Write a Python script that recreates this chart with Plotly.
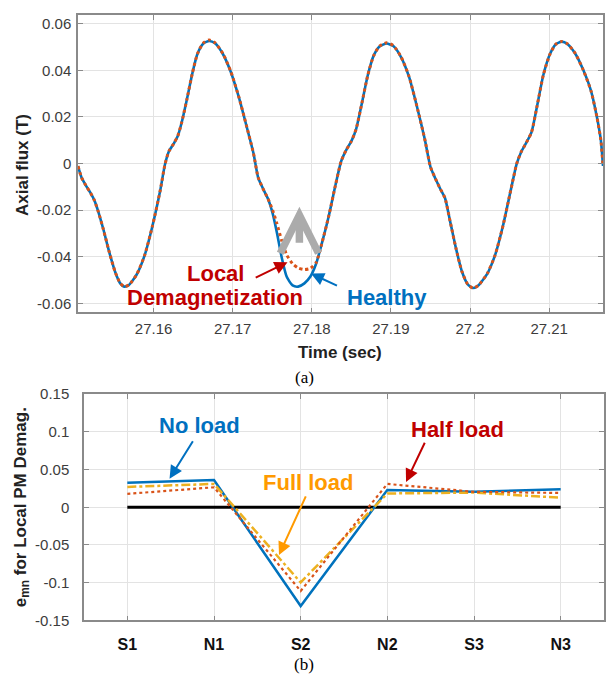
import plotly.graph_objects as go

# ---------------- (a) axial flux ----------------
time_s = [27.15045, 27.1509, 27.15153, 27.15203, 27.15252, 27.15302, 27.15366, 27.15441, 27.15515,
          27.15579, 27.15629, 27.15688, 27.15787, 27.15886, 27.15985, 27.16084, 27.16144, 27.16193,
          27.16257, 27.16307, 27.16356, 27.16421, 27.16490, 27.16554, 27.16629, 27.16703, 27.16777,
          27.16876, 27.16975, 27.17074, 27.17173, 27.17262, 27.17322, 27.17381, 27.17446, 27.17505,
          27.17559, 27.17619, 27.17683, 27.17757, 27.17827, 27.17906, 27.17980, 27.18054, 27.18124,
          27.18213, 27.18302, 27.18371, 27.18436, 27.18500, 27.18559, 27.18634, 27.18708, 27.18782,
          27.18856, 27.18946, 27.19030, 27.19129, 27.19228, 27.19327, 27.19426, 27.19500, 27.19560,
          27.19624, 27.19683, 27.19748, 27.19822, 27.19896, 27.19970, 27.20035, 27.20104, 27.20218,
          27.20317, 27.20416, 27.20515, 27.20589, 27.20649, 27.20713, 27.20777, 27.20847, 27.20926,
          27.21010, 27.21084, 27.21158, 27.21233, 27.21332, 27.21431, 27.21530, 27.21604, 27.21653,
          27.2168]

flux_healthy = [-0.0011, -0.0060, -0.0099, -0.0126, -0.0158, -0.0207, -0.0283, -0.0381, -0.0465,
                -0.0514, -0.0528, -0.0521, -0.0476, -0.0395, -0.0269, -0.0116, -0.0004, 0.0052,
                0.0087, 0.0119, 0.0177, 0.0275, 0.0387, 0.0470, 0.0515, 0.0526, 0.0516,
                0.0470, 0.0394, 0.0289, 0.0163, 0.0045, -0.0060, -0.0106, -0.0151, -0.0214,
                -0.0297, -0.0402, -0.0486, -0.0523, -0.0528, -0.0514, -0.0486, -0.0430, -0.0346,
                -0.0227, -0.0088, 0.0010, 0.0059, 0.0096, 0.0147, 0.0261, 0.0380, 0.0463,
                0.0502, 0.0515, 0.0504, 0.0456, 0.0373, 0.0247, 0.0107, -0.0015, -0.0063,
                -0.0109, -0.0148, -0.0248, -0.0364, -0.0462, -0.0518, -0.0534, -0.0523, -0.0472,
                -0.0392, -0.0267, -0.0113, -0.0001, 0.0052, 0.0091, 0.0135, 0.0247, 0.0380,
                0.0470, 0.0512, 0.0523, 0.0512, 0.0470, 0.0401, 0.0310, 0.0198, 0.0100,
                -0.0010]

flux_demag = [-0.0011, -0.0060, -0.0099, -0.0126, -0.0158, -0.0207, -0.0283, -0.0381, -0.0465,
              -0.0514, -0.0528, -0.0521, -0.0476, -0.0395, -0.0269, -0.0116, -0.0004, 0.0052,
              0.0087, 0.0119, 0.0177, 0.0275, 0.0387, 0.0470, 0.0517, 0.0530, 0.0518,
              0.0472, 0.0396, 0.0290, 0.0164, 0.0045, -0.0060, -0.0106, -0.0151, -0.0200,
              -0.0258, -0.0330, -0.0392, -0.0430, -0.0448, -0.0455, -0.0450, -0.0425, -0.0346,
              -0.0227, -0.0088, 0.0010, 0.0059, 0.0096, 0.0147, 0.0261, 0.0380, 0.0463,
              0.0504, 0.0518, 0.0506, 0.0457, 0.0374, 0.0247, 0.0107, -0.0015, -0.0063,
              -0.0109, -0.0148, -0.0248, -0.0364, -0.0462, -0.0518, -0.0534, -0.0523, -0.0472,
              -0.0392, -0.0267, -0.0113, -0.0001, 0.0052, 0.0091, 0.0135, 0.0247, 0.0380,
              0.0470, 0.0512, 0.0524, 0.0513, 0.0471, 0.0401, 0.0310, 0.0198, 0.0100,
              -0.0010]

top_xticks = [27.16, 27.17, 27.18, 27.19, 27.2, 27.21]
top_xtick_text = ["27.16", "27.17", "27.18", "27.19", "27.2", "27.21"]
top_yticks = [-0.06, -0.04, -0.02, 0, 0.02, 0.04, 0.06]
top_ytick_text = ["-0.06", "-0.04", "-0.02", "0", "0.02", "0.04", "0.06"]

# ---------------- (b) e_mn ----------------
poles = ["S1", "N1", "S2", "N2", "S3", "N3"]
emn_no_load = [0.0325, 0.0362, -0.131, 0.0230, 0.0206, 0.0238]
emn_half_load = [0.0178, 0.0265, -0.111, 0.0310, 0.0205, 0.0190]
emn_full_load = [0.0270, 0.0310, -0.0997, 0.0183, 0.0195, 0.0127]
emn_reference = [0, 0, 0, 0, 0, 0]
bot_yticks = [-0.15, -0.1, -0.05, 0, 0.05, 0.1, 0.15]
bot_ytick_text = ["-0.15", "-0.1", "-0.05", "0", "0.05", "0.1", "0.15"]

FONT = "Liberation Sans, Arial, sans-serif"
BLUE = "#0072BD"
ORANGE = "#D95319"
YELLOW = "#EDB120"
TXT_BLUE = "#0070C0"
TXT_RED = "#C00000"
TXT_ORANGE = "#FF9A00"
AXC = "#8a8a8a"
GRID = "#e3e3e3"
TICKC = "#3c3c3c"

fig = go.Figure()

fig.add_trace(go.Scatter(x=time_s, y=flux_healthy, mode="lines", xaxis="x", yaxis="y",
                         line=dict(color=BLUE, width=2.6, shape="spline", smoothing=0.6),
                         showlegend=False))
fig.add_trace(go.Scatter(x=time_s, y=flux_demag, mode="lines", xaxis="x", yaxis="y",
                         line=dict(color=ORANGE, width=3, dash="dot", shape="spline", smoothing=0.6),
                         showlegend=False))

fig.add_trace(go.Scatter(x=poles, y=emn_reference, mode="lines", xaxis="x2", yaxis="y2",
                         line=dict(color="black", width=3), showlegend=False))
fig.add_trace(go.Scatter(x=poles, y=emn_no_load, mode="lines", xaxis="x2", yaxis="y2",
                         line=dict(color=BLUE, width=2.5), showlegend=False))
fig.add_trace(go.Scatter(x=poles, y=emn_full_load, mode="lines", xaxis="x2", yaxis="y2",
                         line=dict(color=YELLOW, width=2.5, dash="dashdot"), showlegend=False))
fig.add_trace(go.Scatter(x=poles, y=emn_half_load, mode="lines", xaxis="x2", yaxis="y2",
                         line=dict(color=ORANGE, width=2.2, dash="dot"), showlegend=False))

axis_common = dict(showline=True, linecolor=AXC, linewidth=1.5, mirror="ticks", ticks="inside",
                   ticklen=5, tickcolor=AXC, showgrid=True, gridcolor=GRID, gridwidth=1,
                   zeroline=False, tickfont=dict(family=FONT, size=15, color=TICKC))

fig.update_layout(
    width=608, height=683, margin=dict(l=0, r=0, t=0, b=0),
    paper_bgcolor="white", plot_bgcolor="white",
    xaxis=dict(domain=[78 / 608, 603 / 608], anchor="y", range=[27.15045, 27.2168],
               tickmode="array", tickvals=top_xticks, ticktext=top_xtick_text,
               ticklabelstandoff=2, **axis_common),
    yaxis=dict(domain=[1 - 311 / 683, 1 - 6 / 683], anchor="x", range=[-0.0638, 0.0638],
               tickmode="array", tickvals=top_yticks, ticktext=top_ytick_text,
               ticklabelstandoff=2, **axis_common),
    xaxis2=dict(domain=[84 / 608, 604 / 608], anchor="y2", range=[-0.5, 5.5],
                type="category", ticklabelstandoff=9,
                **{k: v for k, v in axis_common.items() if k != "tickfont"},
                tickfont=dict(family=FONT, size=16, color="#111111", weight="bold")),
    yaxis2=dict(domain=[1 - 627 / 683, 1 - 395 / 683], anchor="x2", range=[-0.15, 0.15],
                tickmode="array", tickvals=bot_yticks, ticktext=bot_ytick_text,
                ticklabelstandoff=10, **axis_common),
)

ann = []
# axis titles
ann.append(dict(text="<b>Axial flux (T)</b>", xref="paper", yref="paper", x=22 / 608, y=1 - 160 / 683,
                textangle=-90, showarrow=False, xanchor="center", yanchor="middle",
                font=dict(family=FONT, size=17, color="#222")))
ann.append(dict(text="<b>Time (sec)</b>", xref="paper", yref="paper", x=340 / 608, y=1 - 352 / 683,
                showarrow=False, xanchor="center", yanchor="middle",
                font=dict(family=FONT, size=17, color="#222")))
ann.append(dict(text="<b>e<sub>mn</sub> for Local PM Demag.</b>", xref="paper", yref="paper",
                x=22 / 608, y=1 - 511 / 683, textangle=-90, showarrow=False,
                xanchor="center", yanchor="middle", font=dict(family=FONT, size=17, color="#222")))
# captions
ann.append(dict(text="(a)", xref="paper", yref="paper", x=304 / 608, y=1 - 378 / 683, showarrow=False,
                xanchor="center", yanchor="middle",
                font=dict(family="Liberation Serif, Times New Roman, serif", size=17, color="black")))
ann.append(dict(text="(b)", xref="paper", yref="paper", x=304 / 608, y=1 - 672 / 683, showarrow=False,
                xanchor="center", yanchor="middle",
                font=dict(family="Liberation Serif, Times New Roman, serif", size=17, color="black")))

# (a) labels and arrows
ann.append(dict(text="<b>Local</b>", xref="x", yref="y", x=27.16777, y=-0.0472, showarrow=False,
                font=dict(family=FONT, size=22, color=TXT_RED)))
ann.append(dict(text="<b>Demagnetization</b>", xref="x", yref="y", x=27.16777, y=-0.0576, showarrow=False,
                font=dict(family=FONT, size=22, color=TXT_RED)))
ann.append(dict(text="<b>Healthy</b>", xref="x", yref="y", x=27.18955, y=-0.0576, showarrow=False,
                font=dict(family=FONT, size=22, color=TXT_BLUE)))
ann.append(dict(text="", xref="x", yref="y", axref="x", ayref="y", x=27.17693, y=-0.0423,
                ax=27.17272, ay=-0.0493, showarrow=True, arrowhead=2, arrowsize=1.3, arrowwidth=2,
                arrowcolor=TXT_RED))
ann.append(dict(text="", xref="x", yref="y", axref="x", ayref="y", x=27.17990, y=-0.0472,
                ax=27.18337, ay=-0.0527, showarrow=True, arrowhead=2, arrowsize=1.3, arrowwidth=2,
                arrowcolor=TXT_BLUE))
ann.append(dict(text="", xref="x", yref="y", axref="x", ayref="y", x=27.17843, y=-0.0185,
                ax=27.17843, ay=-0.0346, showarrow=True, arrowhead=5, arrowsize=1.0, arrowwidth=7.5,
                arrowcolor="#ababab"))

# (b) labels and arrows
ann.append(dict(text="<b>No load</b>", xref="x2", yref="y2", x=0.833, y=0.109, showarrow=False,
                font=dict(family=FONT, size=22, color=TXT_BLUE)))
ann.append(dict(text="<b>Half load</b>", xref="x2", yref="y2", x=3.81, y=0.1034, showarrow=False,
                font=dict(family=FONT, size=22, color=TXT_RED)))
ann.append(dict(text="<b>Full load</b>", xref="x2", yref="y2", x=2.089, y=0.0323, showarrow=False,
                font=dict(family=FONT, size=22, color=TXT_ORANGE)))
ann.append(dict(text="", xref="x2", yref="y2", axref="x2", ayref="y2", x=0.487, y=0.0379,
                ax=0.767, ay=0.0895, showarrow=True, arrowhead=2, arrowsize=1.3, arrowwidth=2,
                arrowcolor=TXT_BLUE))
ann.append(dict(text="", xref="x2", yref="y2", axref="x2", ayref="y2", x=3.216, y=0.0336,
                ax=3.44, ay=0.0875, showarrow=True, arrowhead=2, arrowsize=1.3, arrowwidth=2,
                arrowcolor=TXT_RED))
ann.append(dict(text="", xref="x2", yref="y2", axref="x2", ayref="y2", x=1.75, y=-0.0633,
                ax=2.067, ay=0.0164, showarrow=True, arrowhead=2, arrowsize=1.3, arrowwidth=2,
                arrowcolor=TXT_ORANGE))

fig.update_layout(annotations=ann)
fig.write_html("out.html")
